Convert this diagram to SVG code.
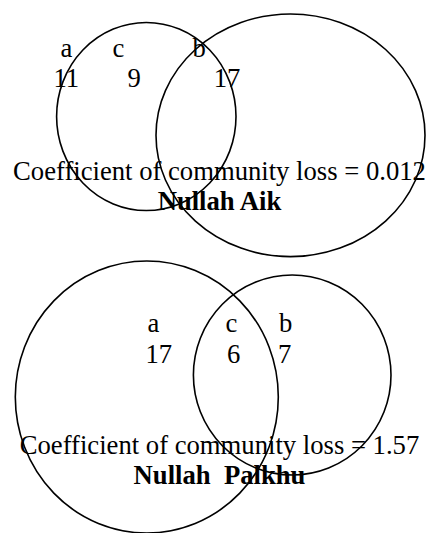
<svg xmlns="http://www.w3.org/2000/svg" width="427" height="533" viewBox="0 0 427 533">
<style>
.set{fill:none;stroke:#000;stroke-width:1.6}
text{font-family:"Liberation Serif","Times New Roman",serif;font-size:26.67px;fill:#000}
.t{text-anchor:middle;white-space:pre}
.b{font-weight:bold}
</style>
<rect width="427" height="533" fill="#fff"/>
<g id="nullah-aik">
  <g id="aik-set-a"><ellipse class="set" cx="146.3" cy="116.5" rx="89.7" ry="94"/></g>
  <g id="aik-set-b"><ellipse class="set" cx="290.5" cy="135.3" rx="134.5" ry="121.3"/></g>
  <g id="aik-labels">
    <text x="60.5" y="57.3">a</text>
    <text x="112.5" y="57.3">c</text>
    <text x="192.5" y="57.3">b</text>
    <text x="53.5" y="86.7">11</text>
    <text x="127.5" y="86.7">9</text>
    <text x="213.7" y="86.7">17</text>
  </g>
  <text class="t" x="219.5" y="179.5">Coefficient of community loss = 0.012</text>
  <text class="t b" x="219.5" y="210">Nullah Aik</text>
</g>
<g id="nullah-palkhu">
  <g id="palkhu-set-a"><ellipse class="set" cx="146.8" cy="397" rx="131.5" ry="136"/></g>
  <g id="palkhu-set-b"><ellipse class="set" cx="292.2" cy="375" rx="98.8" ry="100"/></g>
  <g id="palkhu-labels">
    <text x="147.5" y="332.3">a</text>
    <text x="225.5" y="332.3">c</text>
    <text x="279" y="332.3">b</text>
    <text x="145.5" y="363.3">17</text>
    <text x="227" y="363.3">6</text>
    <text x="278" y="363.3">7</text>
  </g>
  <text class="t" x="219.5" y="454.3">Coefficient of community loss = 1.57</text>
  <text class="t b" x="219.5" y="484">Nullah  Palkhu</text>
</g>
<g id="connectors"/>
</svg>
